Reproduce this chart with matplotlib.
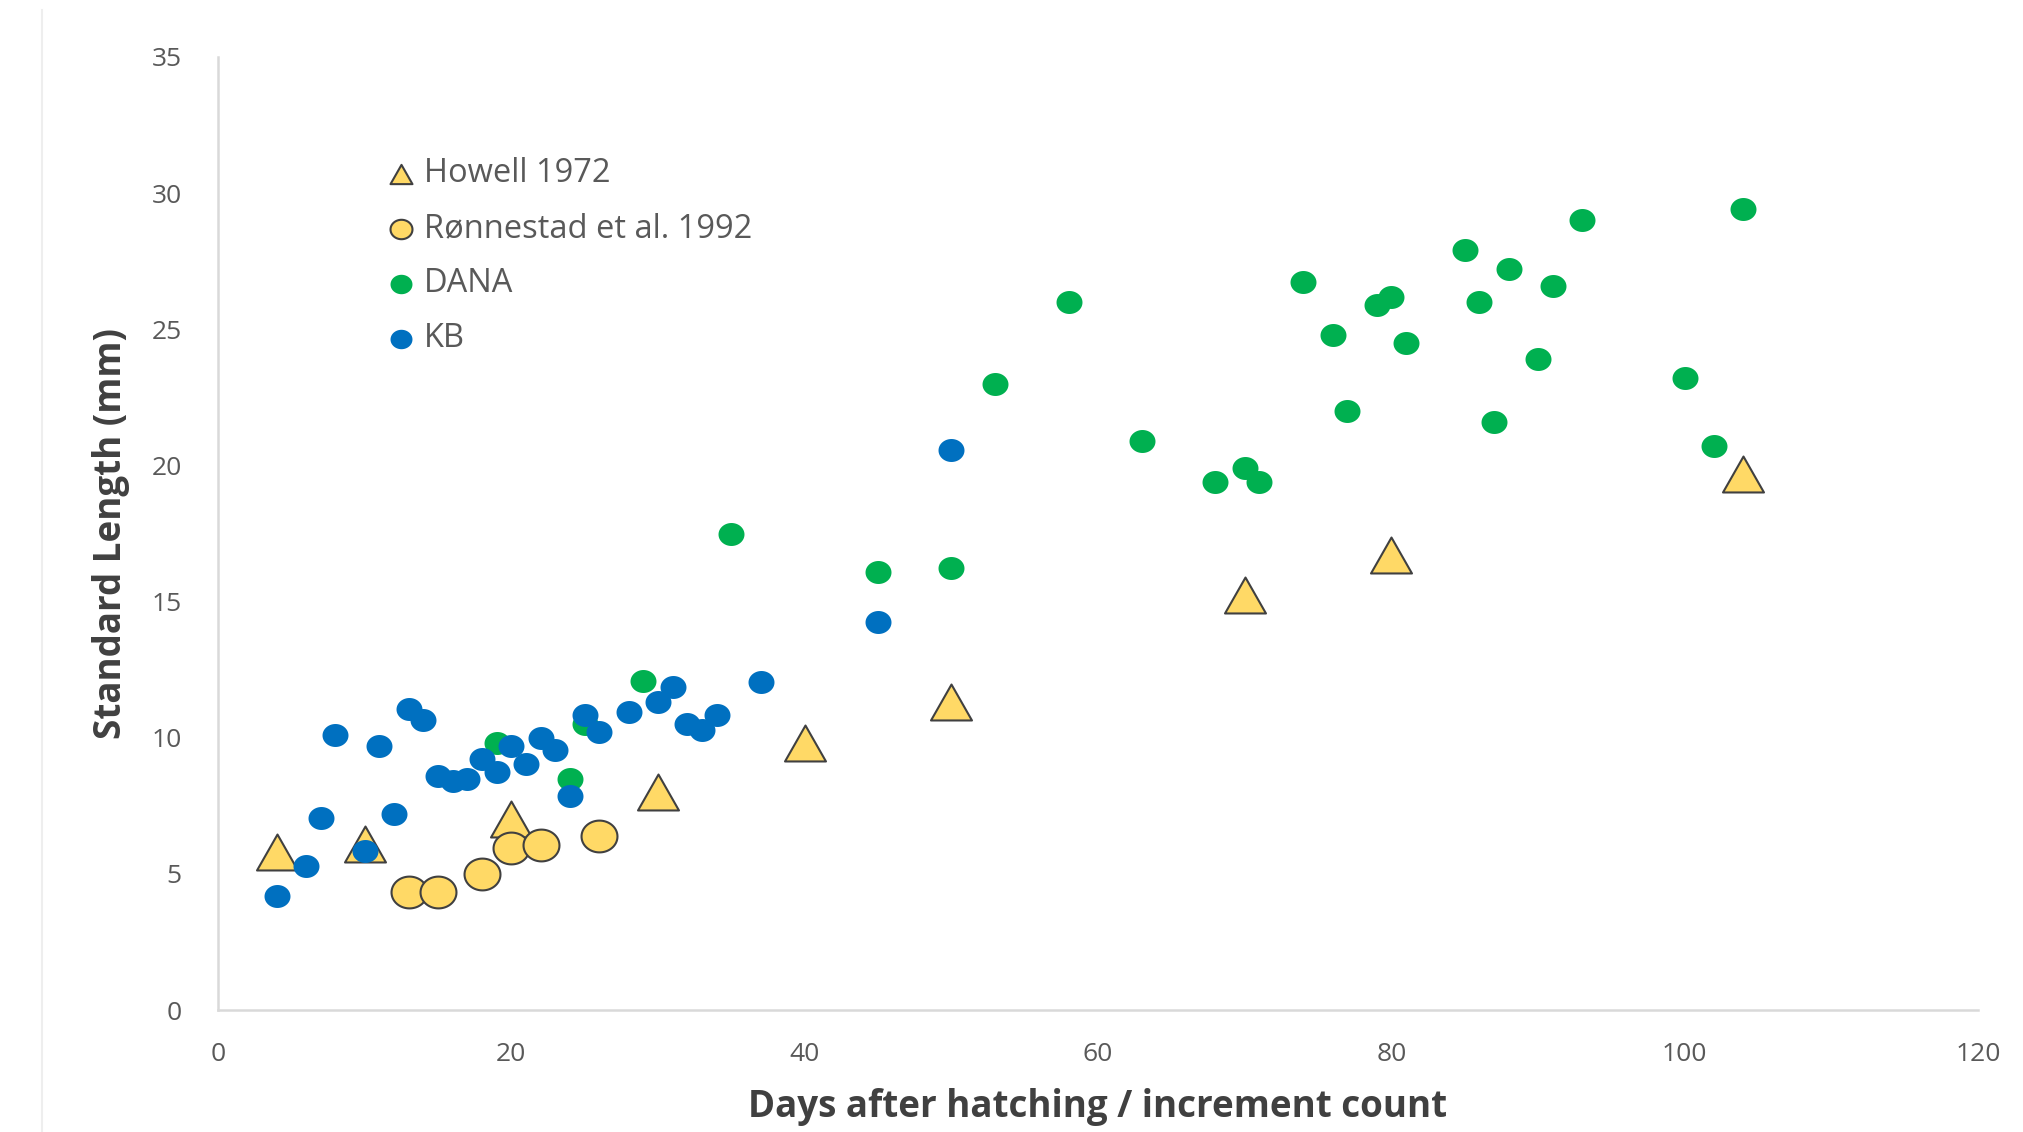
import numpy as np
import matplotlib
matplotlib.use('Agg')
import matplotlib.pyplot as plt
from matplotlib.path import Path
from matplotlib.lines import Line2D

plt.rcParams['font.family'] = ['Open Sans', 'DejaVu Sans']

# data
howell_x = [4, 10, 20, 30, 40, 50, 70, 80, 104]
howell_y = [5.8, 6.1, 7.0, 8.0, 9.8, 11.3, 15.25, 16.7, 19.7]

ronn_x = [13, 15, 18, 20, 22, 26]
ronn_y = [4.35, 4.35, 5.0, 5.95, 6.05, 6.4]

dana_x = [19, 24, 25, 29, 35, 45, 50, 53, 58, 63, 68, 70, 71, 74, 76, 77,
          79, 80, 81, 85, 86, 87, 88, 90, 91, 93, 100, 102, 104]
dana_y = [9.8, 8.5, 10.5, 12.1, 17.5, 16.1, 16.25, 23.0, 26.0, 20.9, 19.4,
          19.9, 19.4, 26.75, 24.8, 22.0, 25.9, 26.2, 24.5, 27.9, 26.0, 21.6,
          27.2, 23.9, 26.6, 29.0, 23.2, 20.7, 29.4]

kb_x = [4, 6, 7, 8, 10, 11, 12, 13, 14, 15, 16, 17, 18, 19, 20, 21, 22, 23,
        24, 25, 26, 28, 30, 31, 32, 33, 34, 37, 45, 50]
kb_y = [4.2, 5.3, 7.05, 10.1, 5.85, 9.7, 7.2, 11.05, 10.65, 8.6, 8.4, 8.5,
        9.2, 8.75, 9.7, 9.05, 10.0, 9.55, 7.85, 10.85, 10.2, 10.95, 11.3,
        11.85, 10.5, 10.3, 10.85, 12.05, 14.25, 20.55]

labels = ['Howell 1972', 'R\u00f8nnestad et al. 1992', 'DANA', 'KB']

# slightly wide markers, like the stretched original
t = np.linspace(0, 2 * np.pi, 60)
ellipse = Path(np.column_stack([1.13 * np.cos(t), np.sin(t)]), closed=True)
tri = Path([(0, 0.5), (-0.57, -0.5), (0.57, -0.5), (0, 0.5)], closed=True)

fig = plt.figure(figsize=(20.23, 11.32), dpi=100)
ax = fig.add_axes([218 / 2023, 122 / 1132, 1760 / 2023, 953 / 1132])

edge = '#404040'
ax.scatter(howell_x, howell_y, s=870, marker=tri, facecolor='#FFD966',
           edgecolor=edge, linewidth=1.5, label=labels[0], zorder=2)
ax.scatter(ronn_x, ronn_y, s=670, marker=ellipse, facecolor='#FFD966',
           edgecolor=edge, linewidth=1.5, label=labels[1], zorder=3)
ax.scatter(dana_x, dana_y, s=350, marker=ellipse, color='#00B050',
           linewidth=0, label=labels[2], zorder=4)
ax.scatter(kb_x, kb_y, s=350, marker=ellipse, color='#0070C0',
           linewidth=0, label=labels[3], zorder=5)

ax.set_xlim(0, 120)
ax.set_ylim(0, 35)
ax.set_xticks(range(0, 121, 20))
ax.set_yticks(range(0, 36, 5))
for s in ['top', 'right']:
    ax.spines[s].set_visible(False)
for s in ['left', 'bottom']:
    ax.spines[s].set_color('#D9D9D9')
    ax.spines[s].set_linewidth(1.8)
ax.tick_params(axis='both', length=0, labelsize=19, labelcolor='#595959')
ax.tick_params(axis='x', pad=23)
ax.tick_params(axis='y', pad=26)

ax.set_xlabel('Days after hatching / increment count', fontsize=26.5,
              fontweight='bold', color='#404040', va='center')
ax.xaxis.set_label_coords(0.5, -0.102)
ax.set_ylabel('Standard Length (mm)', fontsize=26.5, fontweight='bold',
              color='#404040', va='center')
ax.yaxis.set_label_coords(-0.061, 0.5)

leg = ax.legend(loc='upper left', bbox_to_anchor=(0.0946, 0.8948), frameon=False,
                fontsize=23.5, borderpad=0, borderaxespad=0, handlelength=1,
                handletextpad=0.2, labelspacing=0.675, scatterpoints=1)
for h in leg.legend_handles:
    h.set_sizes([250])
for txt in leg.get_texts():
    txt.set_color('#595959')

# faint frame edge at the far left of the original picture
fig.add_artist(Line2D([42 / 2023, 42 / 2023], [0, 1 - 10 / 1132],
                      color='#EEEEEE', linewidth=1.5))

fig.savefig('out.png', dpi=100, facecolor='white')
